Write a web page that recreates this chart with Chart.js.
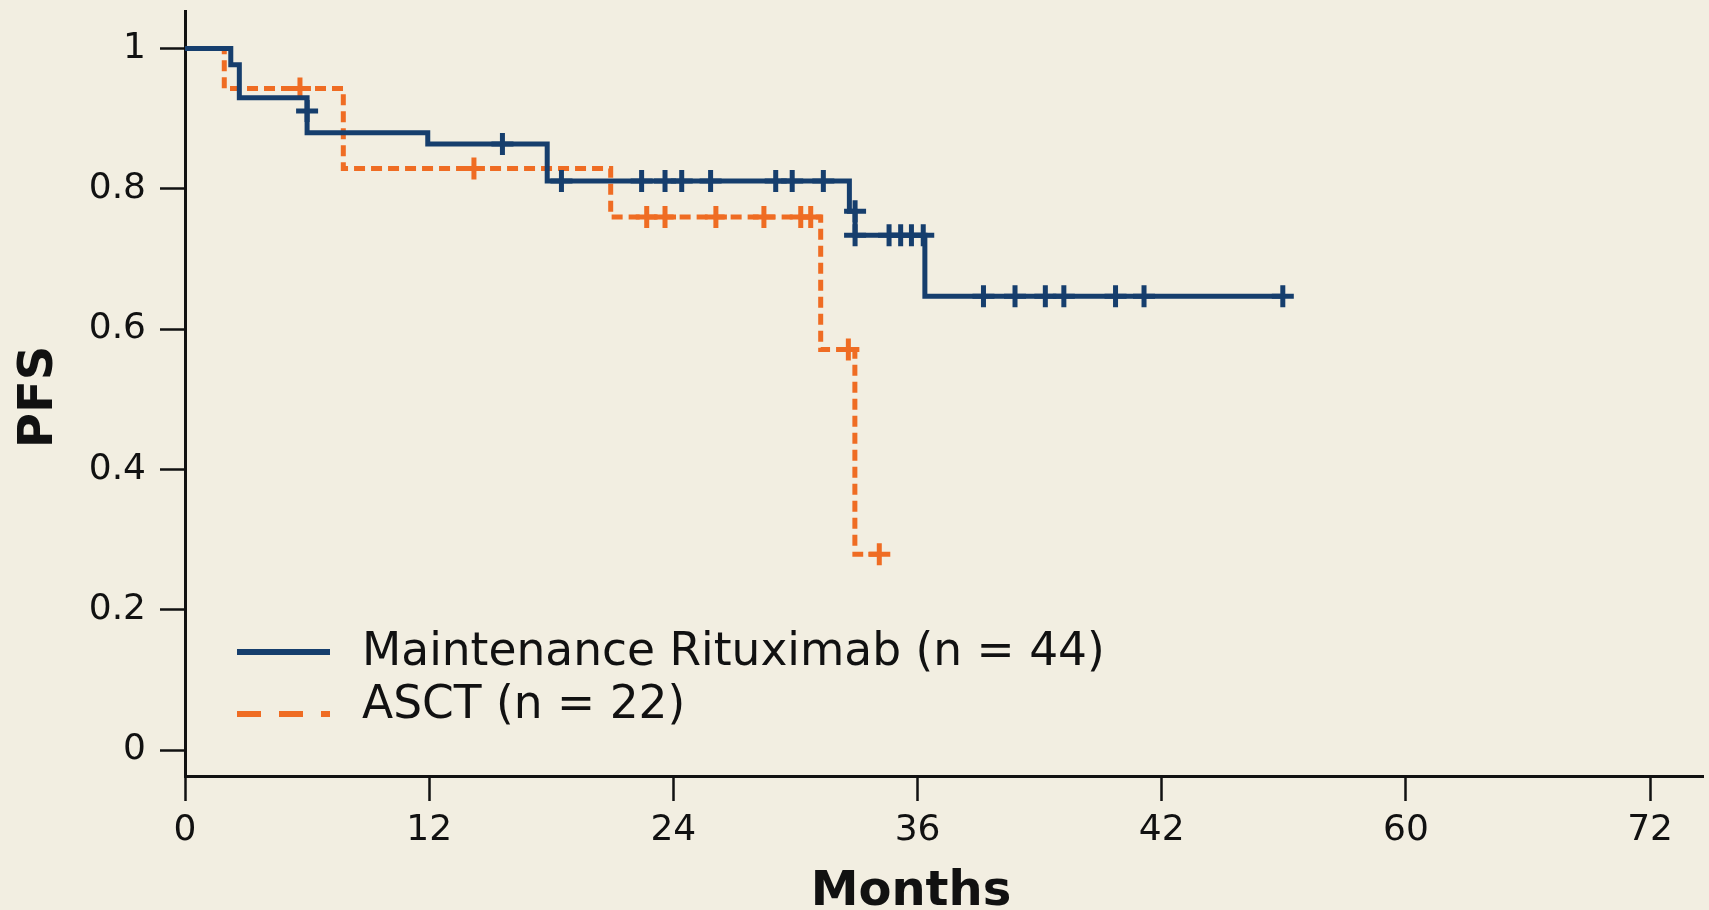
<!DOCTYPE html>
<html>
<head>
<meta charset="utf-8">
<script src="https://cdn.jsdelivr.net/npm/chart.js@4.4.1/dist/chart.umd.min.js"></script>
<style>
  html, body { margin: 0; padding: 0; background: #f2eee1; }
  #wrap { width: 1709px; height: 910px; }
</style>
</head>
<body>
<div id="wrap"><canvas id="km"></canvas></div>
<script>
// tick positions (months) and the labels printed on the original figure
let xTicks = [0, 12, 24, 36, 48, 60, 72]
let xTickLabels = ['0', '12', '24', '36', '42', '60', '72']
let yTicks = [0, 0.2, 0.4, 0.6, 0.8, 1]
let yTickLabels = ['0', '0.2', '0.4', '0.6', '0.8', '1']

let seriesNames = ['Maintenance Rituximab (n = 44)', 'ASCT (n = 22)']

// Maintenance Rituximab: KM step points (time, PFS after the step)
let rituxTimes = [0, 2.25, 2.67, 6.0, 11.93, 17.8, 32.65, 32.93, 36.36, 54.0]
let rituxPFS = [1, 0.977, 0.93, 0.88, 0.864, 0.811, 0.768, 0.734, 0.647, 0.647]
// censored patients
let rituxCensorTimes = [6.0, 15.6, 18.5, 22.44, 23.59, 24.41, 25.83, 29.03, 29.84, 31.37, 32.93, 32.93, 34.6, 35.17, 35.7, 36.28, 39.24, 40.79, 42.28, 43.19, 45.73, 47.13, 53.95]
let rituxCensorPFS = [0.911, 0.864, 0.811, 0.811, 0.811, 0.811, 0.811, 0.811, 0.811, 0.811, 0.768, 0.734, 0.734, 0.734, 0.734, 0.734, 0.647, 0.647, 0.647, 0.647, 0.647, 0.647, 0.647]

// ASCT
let asctTimes = [0, 1.93, 7.78, 20.92, 31.24, 32.92, 34.12]
let asctPFS = [1, 0.943, 0.829, 0.760, 0.571, 0.279, 0.279]
let asctCensorTimes = [5.65, 14.2, 22.69, 23.59, 26.09, 28.45, 30.26, 30.75, 32.6, 34.12]
let asctCensorPFS = [0.943, 0.829, 0.760, 0.760, 0.760, 0.760, 0.760, 0.760, 0.571, 0.279]

let blue = '#163e6d'
let orange = '#ef6c23'
let ink = '#111111'
let bg = '#f2eee1'
let font = "'DejaVu Sans', Verdana, sans-serif"

function toPoints(xs, ys) {
    return xs.map((x, i) => ({ x: x, y: ys[i] }))
}

// background, legend and axis titles
const decorations = {
    id: 'decorations',
    beforeDraw(chart) {
        let c = chart.ctx
        c.save()
        c.fillStyle = bg
        c.fillRect(0, 0, chart.width, chart.height)
        c.restore()
    },
    afterDraw(chart) {
        let c = chart.ctx
        c.save()

        // legend
        c.lineWidth = 6
        c.strokeStyle = blue
        c.setLineDash([])
        c.beginPath()
        c.moveTo(237, 652)
        c.lineTo(330, 652)
        c.stroke()

        c.strokeStyle = orange
        c.setLineDash([24, 18])
        c.beginPath()
        c.moveTo(237, 714)
        c.lineTo(330, 714)
        c.stroke()
        c.setLineDash([])

        c.fillStyle = ink
        c.font = '45.5px ' + font
        c.textAlign = 'left'
        c.textBaseline = 'alphabetic'
        c.fillText(seriesNames[0], 362, 665)
        c.fillText(seriesNames[1], 362, 718)

        // axis titles
        c.font = 'bold 48px ' + font
        c.textAlign = 'center'
        c.fillText('Months', 911, 905)

        c.translate(52, 397)
        c.rotate(-Math.PI / 2)
        c.fillText('PFS', 0, 0)

        c.restore()
    }
}

let ctx = document.getElementById('km').getContext('2d')
let kmChart = new Chart(ctx, {
    type: 'line',
    data: {
        datasets: [
            {
                label: seriesNames[0],
                data: toPoints(rituxTimes, rituxPFS),
                stepped: 'before',
                borderColor: blue,
                borderWidth: 5,
                pointRadius: 0,
                fill: false,
                order: 1
            },
            {
                label: 'rituxCensor',
                data: toPoints(rituxCensorTimes, rituxCensorPFS),
                showLine: false,
                pointStyle: 'cross',
                pointRadius: 11,
                borderWidth: 5,
                pointBorderWidth: 5,
                borderColor: blue,
                pointBorderColor: blue,
                order: 0
            },
            {
                label: seriesNames[1],
                data: toPoints(asctTimes, asctPFS),
                stepped: 'before',
                borderColor: orange,
                borderWidth: 5,
                borderDash: [11, 6],
                pointRadius: 0,
                fill: false,
                order: 3
            },
            {
                label: 'asctCensor',
                data: toPoints(asctCensorTimes, asctCensorPFS),
                showLine: false,
                pointStyle: 'cross',
                pointRadius: 11,
                borderWidth: 5,
                pointBorderWidth: 5,
                borderColor: orange,
                pointBorderColor: orange,
                order: 2
            }
        ]
    },
    options: {
        responsive: true,
        maintainAspectRatio: false,
        animation: false,
        layout: { autoPadding: false, padding: { top: 11, left: 0, right: 6, bottom: 0 } },
        plugins: {
            legend: { display: false },
            tooltip: { enabled: false }
        },
        scales: {
            x: {
                type: 'linear',
                min: 0,
                max: 74.6,
                afterBuildTicks: s => { s.ticks = xTicks.map(v => ({ value: v })) },
                afterFit: s => { s.height = 134; s.paddingLeft = 0; s.paddingRight = 0 },
                ticks: {
                    callback: v => xTickLabels[xTicks.indexOf(v)],
                    font: { family: font, size: 36 },
                    color: ink,
                    padding: 8,
                    maxRotation: 0,
                    autoSkip: false
                },
                grid: { drawOnChartArea: false, drawTicks: true, tickLength: 25, tickWidth: 2.5, tickColor: ink },
                border: { display: true, color: ink, width: 3 }
            },
            y: {
                type: 'linear',
                min: -0.037,
                max: 1.0535,
                afterBuildTicks: s => { s.ticks = yTicks.map(v => ({ value: v })) },
                afterFit: s => { s.width = 185; s.paddingTop = 0; s.paddingBottom = 0 },
                ticks: {
                    callback: v => yTickLabels[yTicks.indexOf(v)],
                    font: { family: font, size: 36 },
                    color: ink,
                    padding: 14,
                    autoSkip: false
                },
                grid: { drawOnChartArea: false, drawTicks: true, tickLength: 25, tickWidth: 2.5, tickColor: ink },
                border: { display: true, color: ink, width: 3 }
            }
        }
    },
    plugins: [decorations]
})
</script>
</body>
</html>
